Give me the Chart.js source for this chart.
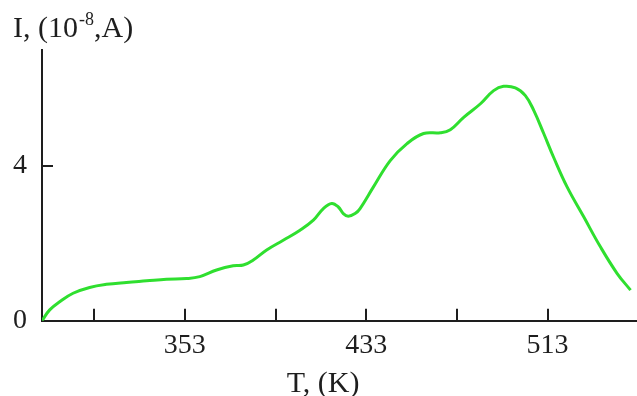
<!DOCTYPE html>
<html><head><meta charset="utf-8">
<script src="https://cdn.jsdelivr.net/npm/chart.js@4"></script>
<style>html,body{margin:0;padding:0;background:#fff;overflow:hidden}</style>
</head><body>
<canvas id="c" width="637" height="396"></canvas>
<script>
// Data
const temperatureK = [290, 293.4, 297.8, 303.7, 311.0, 318.4, 327.2, 336.1, 344.9, 353.8, 359.6, 367.0, 374.3, 378.8, 383.2, 389.1, 396.4, 403.8, 409.7, 414.1, 417.8, 420.7, 422.9, 425.1, 428.1, 430.3, 436.2, 443.6, 451.0, 458.3, 465.7, 470.1, 476.0, 483.4, 489.2, 493.6, 498.8, 503.2, 506.9, 511.3, 515.7, 521.6, 529.0, 536.3, 543.7, 549.6];
const currentI = [0, 0.28, 0.49, 0.71, 0.86, 0.94, 0.99, 1.03, 1.07, 1.09, 1.14, 1.31, 1.42, 1.44, 1.57, 1.83, 2.08, 2.34, 2.60, 2.90, 3.03, 2.94, 2.77, 2.70, 2.77, 2.90, 3.46, 4.14, 4.58, 4.84, 4.86, 4.94, 5.26, 5.61, 5.95, 6.06, 6.02, 5.82, 5.44, 4.84, 4.22, 3.46, 2.68, 1.91, 1.22, 0.79];
const xTicks = [313, 353, 393, 433, 473, 513];
const xTickLabels = ['', '353', '', '433', '', '513'];
const yTicks = [0, 4];
const yTickLabels = ['0', '4'];
const xTitle = 'T, (K)';
const yTitleMain = 'I, (10';
const yTitleSup = '-8';
const yTitleEnd = ',A)';

const points = temperatureK.map((t, i) => ({x: t, y: currentI[i]}));
const serif = '"Liberation Serif", "DejaVu Serif", serif';
const ink = '#1e1e1e';

const decor = {
  id: 'decor',
  afterDraw(chart) {
    const {ctx, chartArea: a, scales: {x, y}} = chart;
    ctx.save();
    ctx.strokeStyle = ink; ctx.lineWidth = 2;
    x.ticks.forEach(t => {
      const px = Math.round(x.getPixelForValue(t.value));
      ctx.beginPath(); ctx.moveTo(px, a.bottom); ctx.lineTo(px, a.bottom - 12); ctx.stroke();
    });
    y.ticks.forEach(t => {
      if (t.value === 0) return;
      const py = Math.round(y.getPixelForValue(t.value));
      ctx.beginPath(); ctx.moveTo(a.left, py); ctx.lineTo(a.left + 11, py); ctx.stroke();
    });
    ctx.fillStyle = ink;
    ctx.textBaseline = 'alphabetic';
    ctx.textAlign = 'left';
    let xx = 13; const base = 37;
    ctx.font = '30px ' + serif;
    ctx.fillText(yTitleMain, xx, base); xx += ctx.measureText(yTitleMain).width + 1;
    ctx.font = '18px ' + serif;
    ctx.fillText(yTitleSup, xx, base - 12); xx += ctx.measureText(yTitleSup).width;
    ctx.font = '30px ' + serif;
    ctx.fillText(yTitleEnd, xx, base);
    ctx.textAlign = 'center';
    ctx.fillText(xTitle, (a.left + a.right) / 2 - 16, 392);
    ctx.restore();
  }
};

new Chart(document.getElementById('c'), {
  type: 'scatter',
  data: {
    datasets: [{
      data: points,
      showLine: true,
      borderColor: '#2fdf2f',
      borderWidth: 3,
      pointRadius: 0,
      tension: 0.4,
      fill: false
    }]
  },
  options: {
    responsive: false,
    animation: false,
    devicePixelRatio: 1,
    layout: {padding: {top: 50, right: 1, left: 0, bottom: 0}},
    plugins: {legend: {display: false}, tooltip: {enabled: false}, title: {display: false}},
    scales: {
      x: {
        type: 'linear', min: 290, max: 552,
        afterBuildTicks: s => { s.ticks = xTicks.map(v => ({value: v})); },
        afterFit: s => { s.height = 75.3; },
        grid: {display: false, drawTicks: false},
        border: {display: true, color: ink, width: 2},
        ticks: {
          autoSkip: false, maxRotation: 0, padding: 8, color: ink,
          font: {family: serif, size: 28},
          callback: (v, i) => xTickLabels[i]
        }
      },
      y: {
        type: 'linear', min: 0, max: 7,
        afterBuildTicks: s => { s.ticks = yTicks.map(v => ({value: v})); },
        afterFit: s => { s.width = 42; },
        grid: {display: false, drawTicks: false},
        border: {display: true, color: ink, width: 2},
        ticks: {
          autoSkip: false, padding: 15, color: ink,
          font: {family: serif, size: 28},
          callback: (v, i) => yTickLabels[i]
        }
      }
    }
  },
  plugins: [decor]
});
</script>
</body></html>
